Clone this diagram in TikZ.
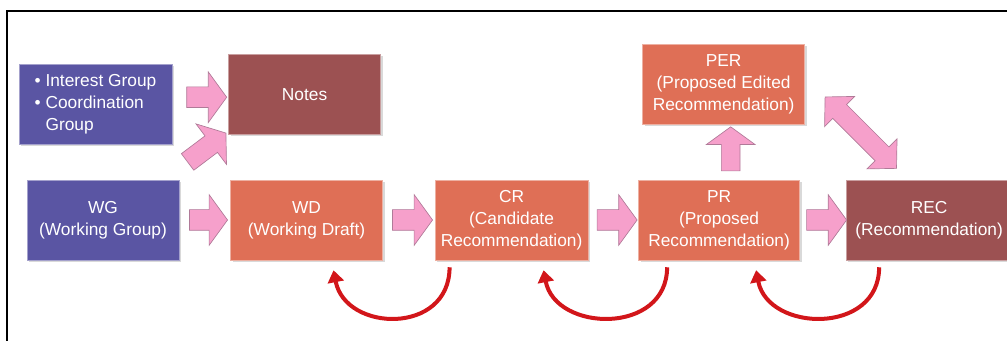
\documentclass[tikz,border=0pt]{standalone}
\usepackage{fontspec}
\setmainfont{Liberation Sans}
\usepackage{xcolor}
\usepackage{tikz}
\usetikzlibrary{arrows.meta,positioning,shapes.arrows,calc,shadows}
\definecolor{groupblue}{HTML}{5A55A3}
\definecolor{draftorange}{HTML}{DF6F56}
\definecolor{recmaroon}{HTML}{9C5152}
\definecolor{pinkfill}{HTML}{F6A0CB}
\definecolor{pinkedge}{HTML}{B07A98}
\definecolor{looped}{HTML}{D2161A}
\tikzset{
  groupbox/.style={
    rectangle, draw=#1!55!white, fill=#1, thin,
    minimum width=114pt, minimum height=60pt,
    font=\fontsize{13}{16.5}\selectfont, text=white, align=center,
    inner sep=2pt,
    drop shadow={shadow xshift=1.5pt, shadow yshift=-1.5pt, opacity=0.3}
  },
  groupbox/.default=groupblue,
  stagebox/.style={groupbox=#1},
  stagebox/.default=draftorange,
  blockarrow/.style={
    single arrow, draw=pinkedge, fill=pinkfill, line width=0.5pt,
    inner sep=7.5pt, single arrow head extend=11.25pt,
    single arrow tip angle=108, minimum height=#1
  },
  blockarrow/.default=30pt,
  twowayarrow/.style={
    double arrow, draw=pinkedge, fill=pinkfill, line width=0.5pt,
    inner sep=7.1pt, double arrow head extend=8.6pt,
    double arrow tip angle=92, minimum height=75.75pt
  },
  loopback/.style={
    -{Triangle[length=9pt, width=12pt]}, line width=3pt, color=looped
  },
}
\begin{document}
\begin{tikzpicture}[x=0.75pt, y=-0.75pt]
  \useasboundingbox (0,0) rectangle (1007,341);
  % frame
  \draw[line width=1.5pt] (7,341) -- (7,11) -- (1007,11);

  % groups
  \node[groupbox] (wg) at (103,220) {WG\\(Working Group)};
  \node[groupbox, minimum width=114.75pt, align=left] (ig) at (95.5,104)
    {\textbullet\ Interest Group\\\textbullet\ Coordination\\\phantom{\textbullet\ }Group};

  % maturity levels
  \node[stagebox, right=38.25pt of wg] (wd) {WD\\(Working Draft)};
  \node[stagebox, minimum width=114.75pt, right=39pt of wd] (cr)
    {CR\\(Candidate\\Recommendation)};
  \node[stagebox, minimum width=120.75pt, right=37.5pt of cr] (pr)
    {PR\\(Proposed\\Recommendation)};
  \node[stagebox=recmaroon, minimum width=124.5pt, right=34.5pt of pr] (rec)
    {REC\\(Recommendation)};
  \node[stagebox, minimum width=121.5pt, above=41.25pt of pr, xshift=3.4pt] (per)
    {PER\\(Proposed Edited\\Recommendation)};
  \node[stagebox=recmaroon, above=33.75pt of wd, xshift=-1.5pt] (notes) {Notes};

  % pink block arrows
  \node[blockarrow, xshift=2pt, yshift=1.5pt] (a1) at ($(ig.east)!0.5!(notes.west)$) {};
  \node[blockarrow=36pt, yshift=5.6pt, rotate=37] (a2)
    at ($(wg.north east)!0.5!(notes.south west)$) {};
  \node[blockarrow=28.5pt] (a3) at ($(wg.east)!0.5!(wd.west)$) {};
  \node[blockarrow] (a4) at ($(wd.east)!0.5!(cr.west)$) {};
  \node[blockarrow] (a5) at ($(cr.east)!0.5!(pr.west)$) {};
  \node[blockarrow] (a6) at ($(pr.east)!0.5!(rec.west)$) {};
  \node[blockarrow=33pt, inner sep=6.75pt, xshift=7pt, rotate=90] (a7)
    at ($(pr.north)!0.5!(per.south)$) {};
  \node[twowayarrow, yshift=-4pt, rotate=-45] (a8) at ($(per.east)!0.45!(rec.north)$) {};

  % red loops back
  \draw[loopback] ([shift={(-62,7)}]cr.south) .. controls +(0,68) and +(12,62) .. ([shift={(27,10)}]wd.south);
  \draw[loopback] ([shift={(-52,7)}]pr.south) .. controls +(0,68) and +(12,62) .. ([shift={(32,10)}]cr.south);
  \draw[loopback] ([shift={(-50,7)}]rec.south) .. controls +(0,68) and +(12,62) .. ([shift={(37,10)}]pr.south);
\end{tikzpicture}
\end{document}
